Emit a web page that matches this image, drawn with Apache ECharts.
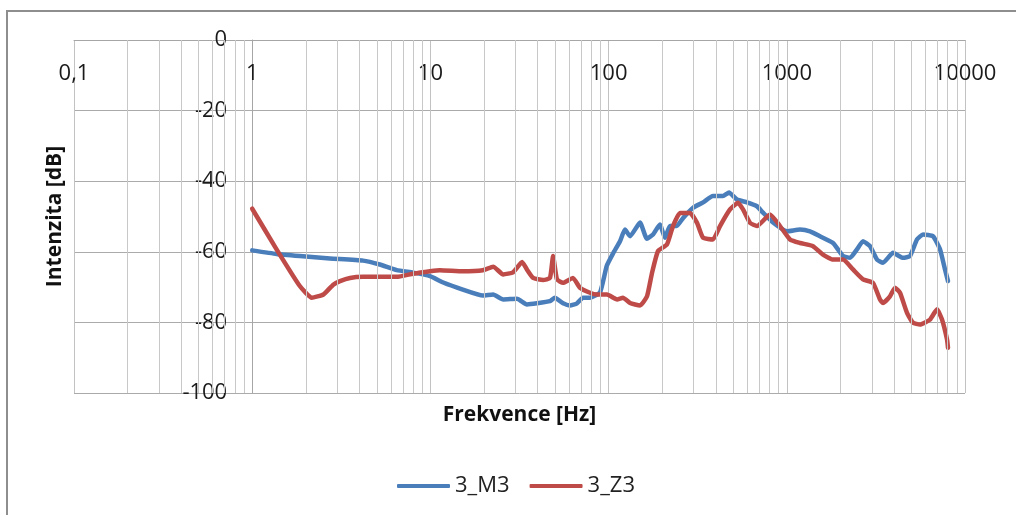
<!DOCTYPE html>
<html>
<head>
<meta charset="utf-8">
<script src="https://cdn.jsdelivr.net/npm/echarts@6/dist/echarts.min.js"></script>
<style>
  html, body { margin: 0; padding: 0; background: #ffffff; }
  #chart { width: 1016px; height: 515px; }
</style>
</head>
<body>
<div id="chart"></div>
<script>
// Frequency response of two recordings, log frequency axis
const freqM3 = [1.0, 1.37, 1.85, 2.73, 4.19, 5.2, 6.47, 8.0, 9.95, 11.8, 15.2, 19.7, 22.5, 25.6, 30.6, 34.8, 39.6, 46.9, 50.0, 55.5, 60.7, 66.5, 71.8, 78.6, 89.5, 97.6, 105.8, 115.9, 123.6, 131.9, 150.1, 164, 177.5, 194, 207, 221, 241, 262, 298, 339, 385, 438, 474, 525, 598, 680, 735, 837, 1003, 1186, 1350, 1536, 1817, 2068, 2263, 2477, 2677, 2931, 3208, 3467, 3945, 4488, 4914, 5379, 5812, 6613, 7239, 7723, 8028];
const dbM3 = [-59.6, -60.6, -61.2, -61.9, -62.5, -63.6, -65.2, -65.9, -66.9, -68.7, -70.7, -72.4, -72.1, -73.5, -73.3, -74.9, -74.6, -74.0, -73.0, -74.6, -75.2, -74.6, -73.0, -73.0, -71.5, -64.0, -60.5, -57.0, -53.7, -55.6, -51.7, -56.3, -55.1, -52.3, -56.0, -52.7, -52.7, -50.4, -47.5, -46.0, -44.2, -44.2, -43.2, -45.2, -46.0, -47.1, -48.9, -51.7, -54.2, -53.7, -54.2, -55.6, -57.5, -61.2, -61.7, -59.3, -57.0, -58.4, -62.2, -63.1, -60.3, -61.7, -61.2, -56.5, -55.1, -55.6, -59.3, -65.0, -68.3];

const freqZ3 = [1.0, 1.37, 1.85, 2.16, 2.51, 2.85, 3.11, 3.54, 4.19, 5.2, 6.47, 8.0, 9.95, 11.3, 15.2, 19.7, 22.5, 25.6, 29.1, 32.7, 34.8, 37.7, 42.9, 46.9, 48.8, 51.3, 55.5, 63.1, 69.1, 78.6, 86.1, 98.0, 111.5, 120.4, 131.9, 150.1, 164.3, 175.2, 189.3, 212.7, 229.8, 251.6, 286.3, 313.5, 338.6, 385.4, 421.9, 480.1, 532.4, 567.8, 621.6, 680.4, 804.7, 915.8, 1042, 1186, 1403, 1596, 1817, 2068, 2352, 2677, 3045, 3334, 3467, 3794, 4048, 4318, 4727, 5108, 5592, 6362, 6965, 7430, 7925, 8028];
const dbZ3 = [-47.8, -59.3, -69.7, -73.0, -72.1, -69.3, -68.3, -67.4, -67.1, -67.1, -67.1, -66.2, -65.5, -65.2, -65.5, -65.2, -64.2, -66.4, -65.8, -62.9, -65.0, -67.4, -68.0, -67.4, -61.2, -67.8, -68.8, -67.4, -70.2, -71.6, -72.1, -72.1, -73.5, -73.0, -74.5, -75.2, -72.6, -66.0, -59.8, -57.9, -52.7, -49.0, -49.0, -51.8, -56.0, -56.5, -52.7, -48.0, -46.1, -48.0, -51.8, -52.7, -49.4, -52.7, -56.5, -57.5, -58.4, -60.8, -62.2, -62.2, -65.0, -67.8, -68.8, -73.5, -74.5, -72.6, -70.2, -71.6, -77.3, -80.1, -80.6, -79.2, -76.3, -79.2, -84.8, -87.2];

const seriesNames = ['3_M3', '3_Z3'];
const xTicks = [0.1, 1, 10, 100, 1000, 10000];
const yTicks = [0, -20, -40, -60, -80, -100];
// intermediate decade lines (2..9 in every decade)
const minorFreqs = [];
for (let d = 0.1; d < 10000; d *= 10) {
  for (let k = 2; k <= 9; k++) minorFreqs.push(+(d * k).toPrecision(3));
}

const pairs = (xs, ys) => xs.map((x, i) => [x, ys[i]]);

const FONT = 'Open Sans';
const chart = echarts.init(document.getElementById('chart'), null, { renderer: 'canvas' });

const gridLeft = 74, gridWidth = 891;

chart.setOption({
  animation: false,
  backgroundColor: '#ffffff',
  textStyle: { fontFamily: FONT },
  graphic: [{
    type: 'rect',
    shape: { x: 7, y: 11, width: 1030, height: 530 },
    style: { fill: 'none', stroke: '#8e8e8e', lineWidth: 2 },
    silent: true
  }],
  grid: {
    left: gridLeft, top: 40, width: gridWidth, height: 353,
    containLabel: false, outerBoundsMode: 'none'
  },
  legend: {
    left: 392, top: 470,
    icon: 'roundRect',
    itemWidth: 53, itemHeight: 4,
    itemGap: 20,
    textStyle: { fontFamily: FONT, fontSize: 22, color: '#222' },
    data: seriesNames
  },
  xAxis: [{
    type: 'log', logBase: 10,
    position: 'top',
    min: xTicks[0], max: xTicks[xTicks.length - 1],
    axisLine: { show: true, onZero: false, lineStyle: { color: '#a6a6a6', width: 1 } },
    axisTick: { show: false },
    axisLabel: {
      inside: true, margin: 23,
      fontFamily: FONT, fontSize: 22, color: '#1a1a1a',
      formatter: v => String(v).replace('.', ',')
    },
    splitLine: { show: true, lineStyle: { color: '#c2c2c2', width: 1 } }
  }, {
    type: 'log', logBase: 10,
    position: 'bottom',
    min: xTicks[0], max: xTicks[xTicks.length - 1],
    axisLine: { show: false, onZero: false },
    axisTick: { show: false },
    axisLabel: { show: false },
    splitLine: { show: false },
    name: 'Frekvence [Hz]',
    nameLocation: 'middle',
    nameGap: 12,
    nameTextStyle: { fontFamily: FONT, fontSize: 21, fontWeight: 'bold', color: '#111' }
  }],
  yAxis: {
    type: 'value',
    min: yTicks[yTicks.length - 1], max: yTicks[0], interval: 20,
    offset: -gridWidth / 5,
    axisLine: { show: true, onZero: false, lineStyle: { color: '#a6a6a6', width: 1 } },
    axisTick: { show: false },
    axisLabel: { margin: 25, fontFamily: FONT, fontSize: 22, color: '#1a1a1a' },
    splitLine: { show: true, lineStyle: { color: '#ababab', width: 1 } },
    name: 'Intenzita [dB]',
    nameLocation: 'middle',
    nameRotate: 90,
    nameGap: 187,
    nameTextStyle: { fontFamily: FONT, fontSize: 21, fontWeight: 'bold', color: '#111' }
  },
  series: [{
    type: 'line',
    name: 'minor-grid',
    data: [],
    silent: true,
    z: 1,
    markLine: {
      silent: true,
      symbol: ['none', 'none'],
      label: { show: false },
      lineStyle: { color: '#c8c8c8', width: 1, type: 'solid' },
      emphasis: { disabled: true },
      data: minorFreqs.map(f => ({ xAxis: f }))
    }
  }, {
    type: 'line',
    name: seriesNames[0],
    data: pairs(freqM3, dbM3),
    showSymbol: false,
    z: 3,
    smooth: 0.15,
    itemStyle: { color: '#4a7ebb' },
    lineStyle: { color: '#4a7ebb', width: 4.5, cap: 'round', join: 'round' }
  }, {
    type: 'line',
    name: seriesNames[1],
    data: pairs(freqZ3, dbZ3),
    showSymbol: false,
    z: 4,
    smooth: 0.15,
    itemStyle: { color: '#be4b48' },
    lineStyle: { color: '#be4b48', width: 4.5, cap: 'round', join: 'round' }
  }]
});
</script>
</body>
</html>
